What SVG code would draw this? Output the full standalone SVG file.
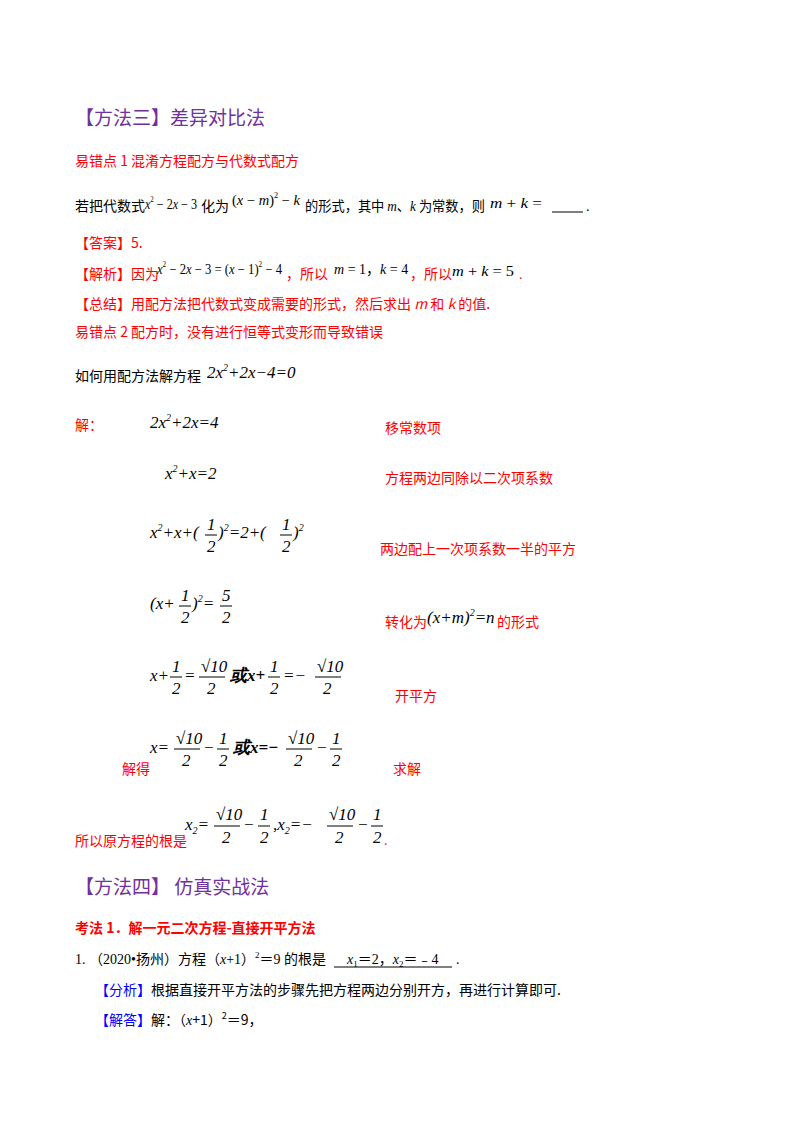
<svg xmlns="http://www.w3.org/2000/svg" width="800" height="1132" viewBox="0 0 800 1132">
<style>
text{font-family:"Liberation Serif","Noto Sans CJK SC",serif;font-size:14px;fill:#000}
.cn{font-family:"Noto Sans CJK SC",sans-serif}
.r{fill:#ff0000}
.p{fill:#7030a0;font-size:19px}
.m{font-family:"Liberation Serif",serif;font-style:italic;font-size:15px}
.big{font-size:17px}
.b{fill:#0000ff}
line{stroke:#000;stroke-width:1}
</style>
<rect width="800" height="1132" fill="#fff"/>
<text class="cn p" x="75" y="125">【方法三】差异对比法</text>
<text class="cn r" x="75" y="166" font-size="15">易错点 1 混淆方程配方与代数式配方</text>
<text class="cn" x="75" y="211">若把代数式</text>
<text x="145" y="209" textLength="52" lengthAdjust="spacingAndGlyphs"><tspan font-style="italic">x</tspan><tspan font-size="8" dy="-7">2</tspan><tspan dy="7"> − 2</tspan><tspan font-style="italic">x</tspan> − 3</text>
<text class="cn" x="201" y="211">化为</text>
<text x="232" y="205" textLength="68" lengthAdjust="spacingAndGlyphs">(<tspan font-style="italic">x</tspan> − <tspan font-style="italic">m</tspan>)<tspan font-size="8" dy="-7">2</tspan><tspan dy="7"> − </tspan><tspan font-style="italic">k</tspan></text>
<text class="cn" x="305" y="211" textLength="180" lengthAdjust="spacingAndGlyphs">的形式，其中 <tspan font-family="Liberation Serif" font-style="italic">m</tspan>、<tspan font-family="Liberation Serif" font-style="italic">k</tspan> 为常数，则</text>
<text x="490" y="208" textLength="52" lengthAdjust="spacingAndGlyphs"><tspan font-style="italic">m</tspan> + <tspan font-style="italic">k</tspan> =</text>
<line x1="552" y1="212" x2="583" y2="212"/>
<text x="586" y="211">.</text>
<text class="cn r" x="75" y="248">【答案】5.</text>
<text class="cn r" x="75" y="279">【解析】因为</text>
<text x="157" y="274" textLength="125" lengthAdjust="spacingAndGlyphs"><tspan font-style="italic">x</tspan><tspan font-size="8" dy="-7">2</tspan><tspan dy="7"> − 2</tspan><tspan font-style="italic">x</tspan> − 3 = (<tspan font-style="italic">x</tspan> − 1)<tspan font-size="8" dy="-7">2</tspan><tspan dy="7"> − 4</tspan></text>
<text class="cn r" x="286" y="279">，所以</text>
<text x="334" y="274"><tspan font-style="italic">m</tspan> = 1，<tspan font-style="italic">k</tspan> = 4</text>
<text class="cn r" x="410" y="279">，所以</text>
<text x="452" y="276" textLength="62" lengthAdjust="spacingAndGlyphs"><tspan font-style="italic">m</tspan> + <tspan font-style="italic">k</tspan> = 5</text>
<text class="r" x="519" y="279">.</text>
<text class="cn r" x="75" y="309">【总结】用配方法把代数式变成需要的形式，然后求出 <tspan font-style="italic">m</tspan> 和 <tspan font-style="italic">k</tspan> 的值.</text>
<text class="cn r" x="75" y="337" font-size="17">易错点 2  配方时，没有进行恒等式变形而导致错误</text>
<text class="cn" x="75" y="381">如何用配方法解方程</text>
<text class="m big" x="207" y="378">2x<tspan font-size="10" dy="-7">2</tspan><tspan dy="7">+2x−4=0</tspan></text>
<text class="cn r" x="75" y="430">解：</text>
<text class="m big" x="150" y="428">2x<tspan font-size="10" dy="-7">2</tspan><tspan dy="7">+2x=4</tspan></text>
<text class="cn r" x="385" y="433">移常数项</text>
<text class="m big" x="165" y="479">x<tspan font-size="10" dy="-7">2</tspan><tspan dy="7">+x=2</tspan></text>
<text class="cn r" x="385" y="483">方程两边同除以二次项系数</text>
<text class="m big" x="150" y="538">x<tspan font-size="10" dy="-7">2</tspan><tspan dy="7">+x+(</tspan></text>
<text class="m big" x="207" y="530">1</text><line x1="205" y1="535" x2="217" y2="535"/><text class="m big" x="207" y="552">2</text>
<text class="m big" x="218" y="538">)<tspan font-size="10" dy="-7">2</tspan><tspan dy="7">=2+(</tspan></text>
<text class="m big" x="282" y="530">1</text><line x1="280" y1="535" x2="292" y2="535"/><text class="m big" x="282" y="552">2</text>
<text class="m big" x="293" y="538">)<tspan font-size="10" dy="-7">2</tspan></text>
<text class="cn r" x="380" y="554">两边配上一次项系数一半的平方</text>
<text class="m big" x="150" y="609">(x+</text>
<text class="m big" x="181" y="601">1</text><line x1="179" y1="606" x2="191" y2="606"/><text class="m big" x="181" y="623">2</text>
<text class="m big" x="192" y="609">)<tspan font-size="10" dy="-7">2</tspan><tspan dy="7">=</tspan></text>
<text class="m big" x="222" y="601">5</text><line x1="220" y1="606" x2="232" y2="606"/><text class="m big" x="222" y="623">2</text>
<text class="cn r" x="385" y="627">转化为</text>
<text class="m big" x="427" y="623">(x+m)<tspan font-size="10" dy="-7">2</tspan><tspan dy="7">=n</tspan></text>
<text class="cn r" x="497" y="627">的形式</text>
<text class="m big" x="150" y="681">x+</text>
<text class="m big" x="172" y="672">1</text><line x1="170" y1="677" x2="182" y2="677"/><text class="m big" x="172" y="694">2</text>
<text class="m big" x="184" y="681">=</text>
<text class="m big" x="201" y="672">√10</text><line x1="199" y1="677" x2="225" y2="677"/><text class="m big" x="207" y="694">2</text>
<text class="m big" x="230" y="681" font-weight="bold">或x+</text>
<text class="m big" x="270" y="672">1</text><line x1="268" y1="677" x2="280" y2="677"/><text class="m big" x="270" y="694">2</text>
<text class="m big" x="283" y="681">=−</text>
<text class="m big" x="317" y="672">√10</text><line x1="315" y1="677" x2="341" y2="677"/><text class="m big" x="323" y="694">2</text>
<text class="cn r" x="395" y="701">开平方</text>
<text class="m big" x="150" y="753">x=</text>
<text class="m big" x="176" y="744">√10</text><line x1="174" y1="749" x2="200" y2="749"/><text class="m big" x="182" y="766">2</text>
<text class="m big" x="203" y="753">−</text>
<text class="m big" x="219" y="744">1</text><line x1="217" y1="749" x2="229" y2="749"/><text class="m big" x="219" y="766">2</text>
<text class="m big" x="233" y="753" font-weight="bold">或x=−</text>
<text class="m big" x="288" y="744">√10</text><line x1="286" y1="749" x2="312" y2="749"/><text class="m big" x="294" y="766">2</text>
<text class="m big" x="316" y="753">−</text>
<text class="m big" x="332" y="744">1</text><line x1="330" y1="749" x2="342" y2="749"/><text class="m big" x="332" y="766">2</text>
<text class="cn r" x="122" y="774">解得</text>
<text class="cn r" x="393" y="774">求解</text>
<text class="m big" x="185" y="830">x<tspan font-size="10" dy="4">2</tspan><tspan dy="-4">=</tspan></text>
<text class="m big" x="216" y="820">√10</text><line x1="214" y1="826" x2="240" y2="826"/><text class="m big" x="222" y="843">2</text>
<text class="m big" x="243" y="830">−</text>
<text class="m big" x="260" y="820">1</text><line x1="258" y1="826" x2="270" y2="826"/><text class="m big" x="260" y="843">2</text>
<text class="m big" x="273" y="830">,x<tspan font-size="10" dy="4">2</tspan><tspan dy="-4">=−</tspan></text>
<text class="m big" x="329" y="820">√10</text><line x1="327" y1="826" x2="353" y2="826"/><text class="m big" x="335" y="843">2</text>
<text class="m big" x="357" y="830">−</text>
<text class="m big" x="373" y="820">1</text><line x1="371" y1="826" x2="383" y2="826"/><text class="m big" x="373" y="843">2</text>
<text class="r" x="384" y="845">.</text>
<text class="cn r" x="75" y="846">所以原方程的根是</text>
<text class="cn p" x="75" y="894">【方法四】  仿真实战法</text>
<text class="cn r" x="75" y="933" font-weight="bold">考法 1．解一元二次方程-直接开平方法</text>
<text x="75" y="964">1.   （2020•扬州）方程（<tspan font-style="italic">x</tspan>+1）<tspan font-size="9" dy="-6">2</tspan><tspan dy="6">＝9 的根是</tspan></text>
<text x="347" y="964"><tspan font-style="italic">x</tspan><tspan font-size="9" dy="3">1</tspan><tspan dy="-3">＝2，</tspan><tspan font-style="italic">x</tspan><tspan font-size="9" dy="3">2</tspan><tspan dy="-3">＝﹣4</tspan></text>
<line x1="334" y1="967" x2="452" y2="967"/>
<text x="456" y="964">.</text>
<text class="cn" x="95" y="995"><tspan class="b">【分析】</tspan>根据直接开平方法的步骤先把方程两边分别开方，再进行计算即可.</text>
<text class="cn" x="95" y="1025"><tspan class="b">【解答】</tspan>解：（<tspan font-style="italic" font-family="Liberation Serif">x</tspan>+1）<tspan font-size="9" dy="-6">2</tspan><tspan dy="6">＝9，</tspan></text>
</svg>
